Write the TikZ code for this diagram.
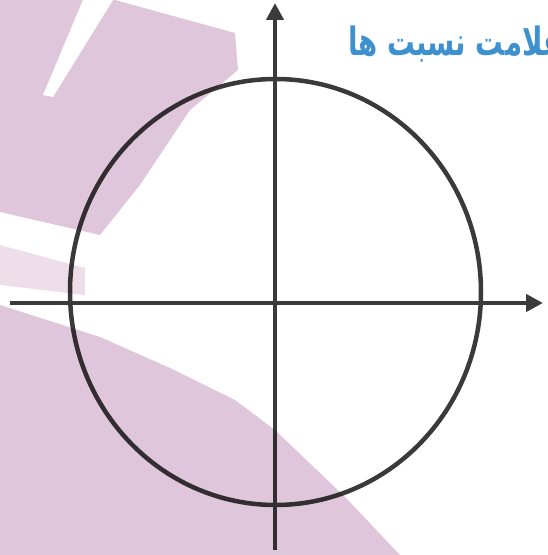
\documentclass[tikz,border=0pt]{standalone}
\usepackage{fontspec}
\newfontfamily\arabicfont[Script=Arabic]{DejaVu Sans Bold}
\TeXXeTstate=1
\usetikzlibrary{arrows.meta}
\definecolor{wmpink}{RGB}{224,198,218}
\definecolor{wmlight}{RGB}{238,222,234}
\definecolor{axisgray}{RGB}{58,58,58}
\definecolor{titleblue}{RGB}{62,145,207}
\tikzset{
    axisline/.style={line width=4.5pt, draw=axisgray, -{Triangle[length=17pt,width=17pt]}},
    ringline/.style={line width=4.5pt, draw=axisgray},
    titletext/.style={anchor=base west, text=titleblue, xscale=0.92, yscale=1.3, transform shape,
        font=\arabicfont\fontsize{30}{36}\selectfont}
}
\begin{document}
\begin{tikzpicture}[x=1pt,y=1pt]
    \useasboundingbox (-275,-252) rectangle (273,303);
    \coordinate (O) at (0,0);
    \coordinate (xmin) at (-265,0);
    \coordinate (xmax) at (268,0);
    \coordinate (ymin) at (0,-247);
    \coordinate (ymax) at (0,300);
    \draw[ringline] (0.5,11) ellipse [x radius=205.5, y radius=213];
    \draw[axisline] (xmin) -- (xmax);
    \draw[axisline] (ymin) -- (ymax);
    \begin{scope}[blend mode=multiply]
        \fill[wmpink] (-275,303) -- (-160,303) -- (-40,270) -- (-37,233) -- (-85,193)
            -- (-115,148) -- (-135,118) -- (-175,68) -- (-275,91) -- cycle;
        \fill[wmlight] (-275,58) -- (-190,35) -- (-190,8) -- (-275,18) -- cycle;
        \fill[wmpink] (-275,-2) -- (-175,-34) -- (-105,-65) -- (-40,-97) -- (0,-127)
            -- (70,-194) -- (125,-252) -- (-275,-252) -- cycle;
    \end{scope}
    \fill[white] (-192,303) -- (-162,303) -- (-222,206) -- (-232,208) -- cycle;
    \node[titletext] (title) at (70,247) {\beginR علامت نسبت ها\endR};
\end{tikzpicture}
\end{document}
